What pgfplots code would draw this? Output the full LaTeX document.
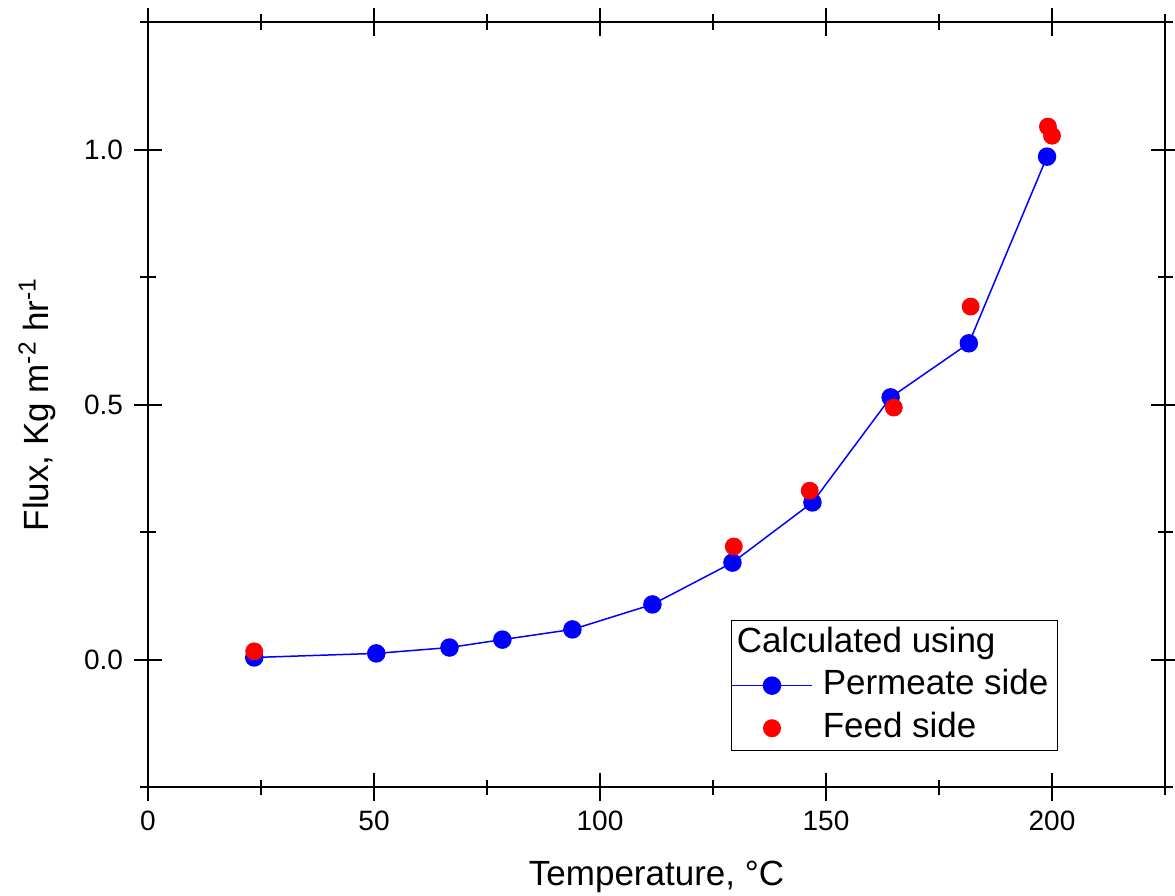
\documentclass[border=0pt]{standalone}
\usepackage{pgfplots}
\pgfplotsset{compat=1.18}
\usepackage{fontspec}
\setmainfont{Liberation Sans}
\pgfplotsset{mylegend/.style={legend image code/.code={\draw[mark repeat=2,mark phase=2] plot coordinates {(0pt,0pt) (20pt,0pt) (40pt,0pt)};}}}
\begin{document}
\begin{tikzpicture}
\begin{axis}[
 scale only axis, width=508.5pt, height=382.5pt,
 xmin=0, xmax=225, ymin=-0.25, ymax=1.25,
 xtick={0,50,...,200}, minor xtick={25,75,...,225},
 ytick={0,0.5,1}, minor ytick={-0.25,0.25,0.75,1.25},
 tick align=center, major tick length=14pt, minor tick length=7.5pt,
 axis line style={line width=1pt},
 every tick/.style={black, line width=1pt},
 tick label style={font=\fontsize{14}{17}\selectfont},
 /pgf/number format/assume math mode=true,
 yticklabel style={/pgf/number format/.cd, fixed, fixed zerofill, precision=1, /tikz/.cd, xshift=-2pt},
 xticklabel style={yshift=-1.5pt},
 xlabel={Temperature, °C},
 ylabel={Flux, Kg m\textsuperscript{-2} hr\textsuperscript{-1}},
 label style={font=\fontsize{17.5}{21}\selectfont},
 xlabel style={at={(axis description cs:0.5,0)}, anchor=center, yshift=-45pt},
 ylabel style={at={(axis description cs:0,0.5)}, anchor=center, yshift=55.5pt},
 legend style={at={(0.573,0.218)}, anchor=north west, draw=black, line width=0.5pt,
   font=\fontsize{17.5}{21}\selectfont, inner xsep=0pt, inner ysep=0.5pt,
   nodes={inner xsep=0pt, inner ysep=2pt, text height=13.3pt, text depth=4pt},
   /tikz/every odd column/.style={column sep=5pt},
   cells={anchor=west}, row sep=0pt},
]
\addlegendimage{empty legend}
\addlegendentry{\hspace*{-43pt}Calculated using}
\addplot[blue, line width=0.75pt, mark=*, mark size=4.25pt, mark options={fill=blue, draw=blue}, mylegend] coordinates {
(23.5,0.004) (50.5,0.012) (66.7,0.0235) (78.4,0.039) (93.9,0.059) (111.6,0.108)
(129.3,0.19) (147,0.308) (164.3,0.514) (181.6,0.62) (198.9,0.986)};
\addlegendentry{Permeate side\hspace*{4.5pt}}
\addplot[red, only marks, mark=*, mark size=4.25pt, mark options={fill=red, draw=red}, mylegend] coordinates {
(23.5,0.016) (129.6,0.2216) (146.4,0.331) (165,0.494) (182,0.692) (199.1,1.045) (200,1.027)};
\addlegendentry{Feed side}
\end{axis}
\pgfresetboundingbox
\path ([xshift=-74pt,yshift=-54pt]current axis.south west) ([xshift=5pt,yshift=11pt]current axis.north east);
\end{tikzpicture}
\end{document}
